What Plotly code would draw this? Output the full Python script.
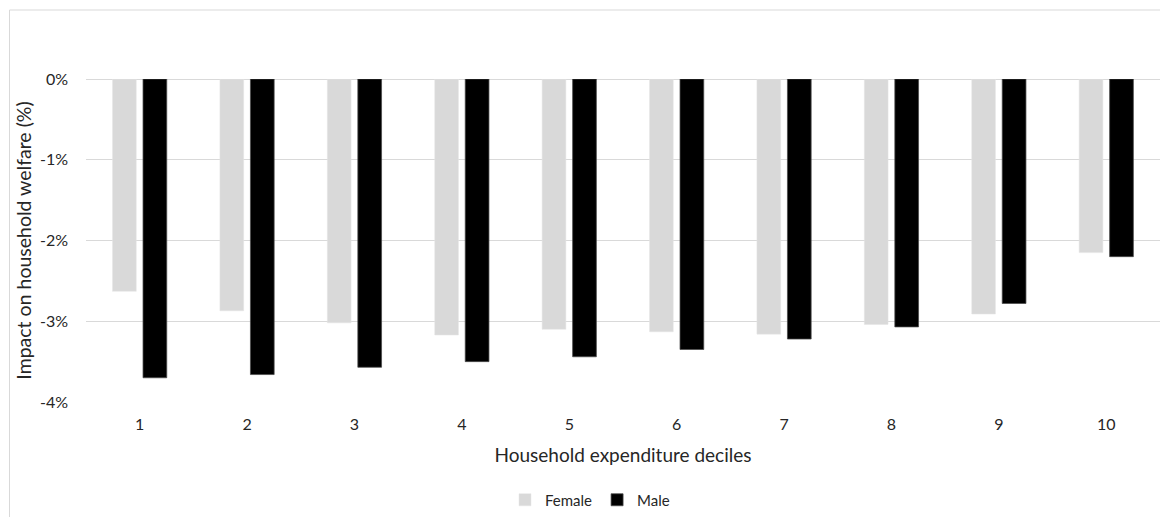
import plotly.graph_objects as go

# Household expenditure deciles and welfare impact (% change) by head-of-household gender
deciles = [1, 2, 3, 4, 5, 6, 7, 8, 9, 10]
female = [-2.63, -2.87, -3.02, -3.17, -3.10, -3.13, -3.16, -3.04, -2.91, -2.15]
male = [-3.70, -3.66, -3.57, -3.50, -3.44, -3.35, -3.22, -3.07, -2.78, -2.20]
y_ticks = [0, -1, -2, -3, -4]
y_tick_labels = ["0%", "-1%", "-2%", "-3%", "-4%"]

FONT = "Lato, 'Open Sans', sans-serif"
TEXT = "#262626"

W, H = 1160, 517
L, R, T, B = 86, 0, 79, 115
pw, ph = W - L - R, H - T - B

fig = go.Figure()
fig.add_trace(go.Bar(
    x=deciles, y=female, name="Female",
    width=0.221, offset=-0.253,
    marker=dict(color="#d9d9d9", line=dict(color="#e4e4e4", width=0.5)),
))
fig.add_trace(go.Bar(
    x=deciles, y=male, name="Male",
    width=0.221, offset=0.031,
    marker=dict(color="#000000", line=dict(color="#4a4a4a", width=0.75)),
))

# thin chart-area frame (left and top edges fall inside the page)
fig.add_shape(
    type="rect", xref="paper", yref="paper",
    x0=(9.5 - L) / pw, x1=(W + 30 - L) / pw,
    y0=-(B + 30) / ph, y1=(H - B - 10) / ph,
    line=dict(color="#d9d9d9", width=1), fillcolor="rgba(0,0,0,0)", layer="below",
)

fig.update_layout(
    width=W, height=H,
    margin=dict(l=L, r=R, t=T, b=B, pad=0),
    paper_bgcolor="white", plot_bgcolor="white",
    barmode="overlay",
    font=dict(family=FONT, color=TEXT, size=16),
    showlegend=True,
    legend=dict(
        orientation="h", x=(590 - L) / pw, xanchor="center",
        y=-(500 - (H - B)) / ph, yanchor="middle",
        font=dict(size=15, color=TEXT), itemwidth=30,
        traceorder="normal",
    ),
    xaxis=dict(
        range=[0.5, 10.5], tickmode="array", tickvals=deciles,
        ticktext=[str(d) for d in deciles],
        showgrid=False, zeroline=False, showline=False, ticks="",
        ticklabelstandoff=11,
        tickfont=dict(size=16, color=TEXT),
        title=dict(text="Household expenditure deciles",
                   font=dict(size=19, color=TEXT), standoff=16),
    ),
    yaxis=dict(
        range=[-4, 0], tickmode="array", tickvals=y_ticks, ticktext=y_tick_labels,
        showgrid=True, gridcolor="#d9d9d9", gridwidth=1,
        zeroline=True, zerolinecolor="#d9d9d9", zerolinewidth=1,
        showline=False, ticks="", ticklabelstandoff=17,
        tickfont=dict(size=16, color=TEXT),
        title=dict(text="Impact on household welfare (%)",
                   font=dict(size=19.5, color=TEXT), standoff=3),
    ),
)

fig.write_html("out.html")
